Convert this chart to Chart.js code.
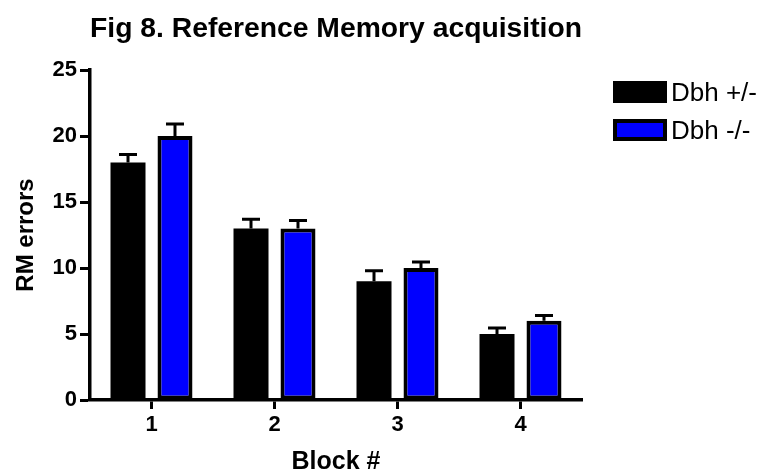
<!DOCTYPE html>
<html>
<head>
<meta charset="utf-8">
<script src="https://cdn.jsdelivr.net/npm/chart.js@4.4.1/dist/chart.umd.min.js"></script>
<style>
  html, body { margin: 0; padding: 0; background: #fff; }
  #wrap { width: 772px; height: 475px; }
</style>
</head>
<body>
<div id="wrap"><canvas id="c" width="772" height="475"></canvas></div>
<script>
// Reference memory errors per training block (mean ± SEM)
const blocks = ['1', '2', '3', '4'];
const hetMeans = [18, 13, 9, 5];
const hetSem = [0.6, 0.7, 0.8, 0.45];
const koMeans = [20, 13, 10, 6];
const koSem = [0.9, 0.6, 0.45, 0.4];
const yTickValues = [0, 5, 10, 15, 20, 25];

const FONT = '"Liberation Sans", Arial, Helvetica, sans-serif';

// Upward-only SEM whiskers with a cap
const errorBars = {
  id: 'errorBars',
  afterDatasetsDraw(chart) {
    const ctx = chart.ctx;
    const y = chart.scales.y;
    ctx.save();
    ctx.strokeStyle = '#000';
    ctx.lineWidth = 3;
    ctx.lineCap = 'butt';
    chart.data.datasets.forEach((ds, i) => {
      const meta = chart.getDatasetMeta(i);
      meta.data.forEach((bar, j) => {
        const top = y.getPixelForValue(ds.data[j] + ds.errors[j]);
        ctx.beginPath();
        ctx.moveTo(bar.x, bar.y);
        ctx.lineTo(bar.x, top);
        ctx.moveTo(bar.x - 9, top);
        ctx.lineTo(bar.x + 9, top);
        ctx.stroke();
      });
    });
    ctx.restore();
  }
};

// Legend drawn to the right of the plot
const sideLegend = {
  id: 'sideLegend',
  afterDraw(chart) {
    const ctx = chart.ctx;
    const x0 = 613, w = 54, h = 22, tops = [81, 119];
    ctx.save();
    chart.data.datasets.forEach((ds, i) => {
      const t = tops[i];
      ctx.fillStyle = '#000';
      ctx.fillRect(x0, t, w, h);
      if (ds.borderWidth) {
        ctx.fillStyle = ds.backgroundColor;
        ctx.fillRect(x0 + 4, t + 4, w - 8, h - 8);
      }
      ctx.fillStyle = '#000';
      ctx.font = '26px ' + FONT;
      ctx.textBaseline = 'middle';
      ctx.textAlign = 'left';
      ctx.fillText(ds.label, x0 + w + 4, t + h / 2 + 2);
    });
    ctx.restore();
  }
};

new Chart(document.getElementById('c'), {
  type: 'bar',
  data: {
    labels: blocks,
    datasets: [
      {
        label: 'Dbh +/-',
        data: hetMeans,
        errors: hetSem,
        backgroundColor: '#000000',
        borderWidth: 0
      },
      {
        label: 'Dbh -/-',
        data: koMeans,
        errors: koSem,
        backgroundColor: '#0000ff',
        borderColor: '#000000',
        borderWidth: 4,
        borderSkipped: false
      }
    ]
  },
  options: {
    responsive: false,
    animation: false,
    devicePixelRatio: 1,
    categoryPercentage: 0.764,
    barPercentage: 0.745,
    layout: { padding: { top: 0, right: 190, left: 0, bottom: 0 } },
    plugins: {
      legend: { display: false },
      tooltip: { enabled: false },
      title: {
        display: true,
        text: 'Fig 8. Reference Memory acquisition',
        fullSize: false,
        color: '#000',
        font: { family: FONT, size: 28.5, weight: 'bold', lineHeight: 1.2 },
        padding: { top: 12, bottom: 23.8 }
      }
    },
    scales: {
      x: {
        type: 'category',
        offset: true,
        afterFit(s) { s.height = 75; },
        grid: {
          offset: false,
          drawOnChartArea: false,
          drawTicks: true,
          tickLength: 9,
          tickWidth: 3,
          tickColor: '#000'
        },
        border: { display: true, color: '#000', width: 3.5 },
        ticks: {
          color: '#000',
          padding: 3,
          font: { family: FONT, size: 22, weight: 'bold' }
        },
        title: {
          display: true,
          text: 'Block #',
          color: '#000',
          font: { family: FONT, size: 25, weight: 'bold', lineHeight: 1.0 },
          padding: 0
        }
      },
      y: {
        min: 0,
        max: 25,
        afterFit(s) { s.width = 90; },
        afterBuildTicks(s) { s.ticks = yTickValues.map(v => ({ value: v })); },
        grid: {
          drawOnChartArea: false,
          drawTicks: true,
          tickLength: 10,
          tickWidth: 3,
          tickColor: '#000'
        },
        border: { display: true, color: '#000', width: 3.5 },
        ticks: {
          color: '#000',
          padding: 3,
          font: { family: FONT, size: 22, weight: 'bold' }
        },
        title: {
          display: true,
          text: 'RM errors',
          color: '#000',
          font: { family: FONT, size: 24, weight: 'bold', lineHeight: 1.2 },
          padding: { top: 12, bottom: 0 }
        }
      }
    }
  },
  plugins: [errorBars, sideLegend]
});
</script>
</body>
</html>
